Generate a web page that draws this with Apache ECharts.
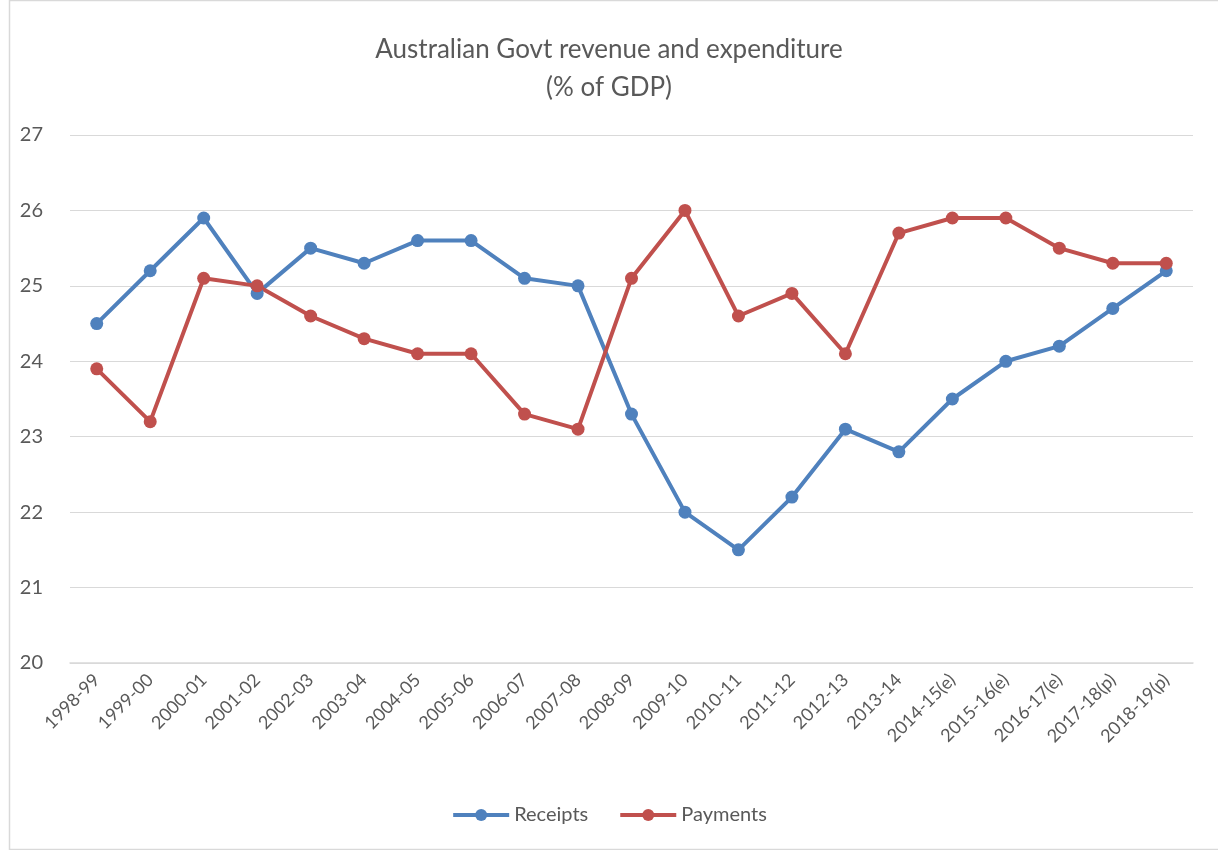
<!DOCTYPE html>
<html>
<head>
<meta charset="utf-8">
<script src="https://cdn.jsdelivr.net/npm/echarts@6/dist/echarts.min.js"></script>
<style>
  html, body { margin: 0; padding: 0; background: #fff; }
  #chart { width: 1218px; height: 850px; }
</style>
</head>
<body>
<div id="chart"></div>
<script>
// 财年类别
const years = ['1998-99','1999-00','2000-01','2001-02','2002-03','2003-04','2004-05','2005-06','2006-07','2007-08',
  '2008-09','2009-10','2010-11','2011-12','2012-13','2013-14','2014-15(e)','2015-16(e)','2016-17(e)','2017-18(p)','2018-19(p)'];
// 收入（% of GDP）
const receipts = [24.5,25.2,25.9,24.9,25.5,25.3,25.6,25.6,25.1,25.0,23.3,22.0,21.5,22.2,23.1,22.8,23.5,24.0,24.2,24.7,25.2];
// 支出（% of GDP）
const payments = [23.9,23.2,25.1,25.0,24.6,24.3,24.1,24.1,23.3,23.1,25.1,26.0,24.6,24.9,24.1,25.7,25.9,25.9,25.5,25.3,25.3];

const font = 'Lato, "Open Sans", sans-serif';
const chart = echarts.init(document.getElementById('chart'));

function lineSeries(name, data, color) {
  return {
    name: name, type: 'line', data: data,
    symbol: 'circle', symbolSize: 13,
    lineStyle: { color: color, width: 4 },
    itemStyle: { color: color },
    emphasis: { disabled: true }
  };
}

chart.setOption({
  animation: false,
  textStyle: { fontFamily: font },
  title: {
    text: 'Australian Govt revenue and expenditure\n(% of GDP)',
    left: 'center', top: 26,
    textStyle: { color: '#595959', fontSize: 26, fontWeight: 'normal', lineHeight: 38, fontFamily: font }
  },
  legend: {
    bottom: 20, left: 'center', itemWidth: 56, itemHeight: 15, itemGap: 30,
    lineStyle: { width: 4 },
    textStyle: { color: '#595959', fontSize: 20, fontFamily: font },
    data: ['Receipts', 'Payments']
  },
  grid: { left: 70, right: 25, top: 135, bottom: 187 },
  xAxis: {
    type: 'category', data: years, boundaryGap: true,
    axisLine: { lineStyle: { color: '#d9d9d9', width: 1.5 } },
    axisTick: { show: false },
    axisLabel: { color: '#595959', fontSize: 18, rotate: 45, interval: 0, margin: 14, fontFamily: font }
  },
  yAxis: {
    type: 'value', min: 20, max: 27, interval: 1,
    axisLine: { show: false }, axisTick: { show: false },
    splitLine: { lineStyle: { color: '#d9d9d9', width: 1.2 } },
    axisLabel: { color: '#595959', fontSize: 20, margin: 27, fontFamily: font }
  },
  series: [
    lineSeries('Receipts', receipts, '#4f81bd'),
    lineSeries('Payments', payments, '#c0504d')
  ],
  graphic: [{
    type: 'rect', left: 7, top: -2, silent: true,
    shape: { width: 1215, height: 849 },
    style: { fill: 'none', stroke: '#d9d9d9', lineWidth: 1.5 }
  }]
});
</script>
</body>
</html>
